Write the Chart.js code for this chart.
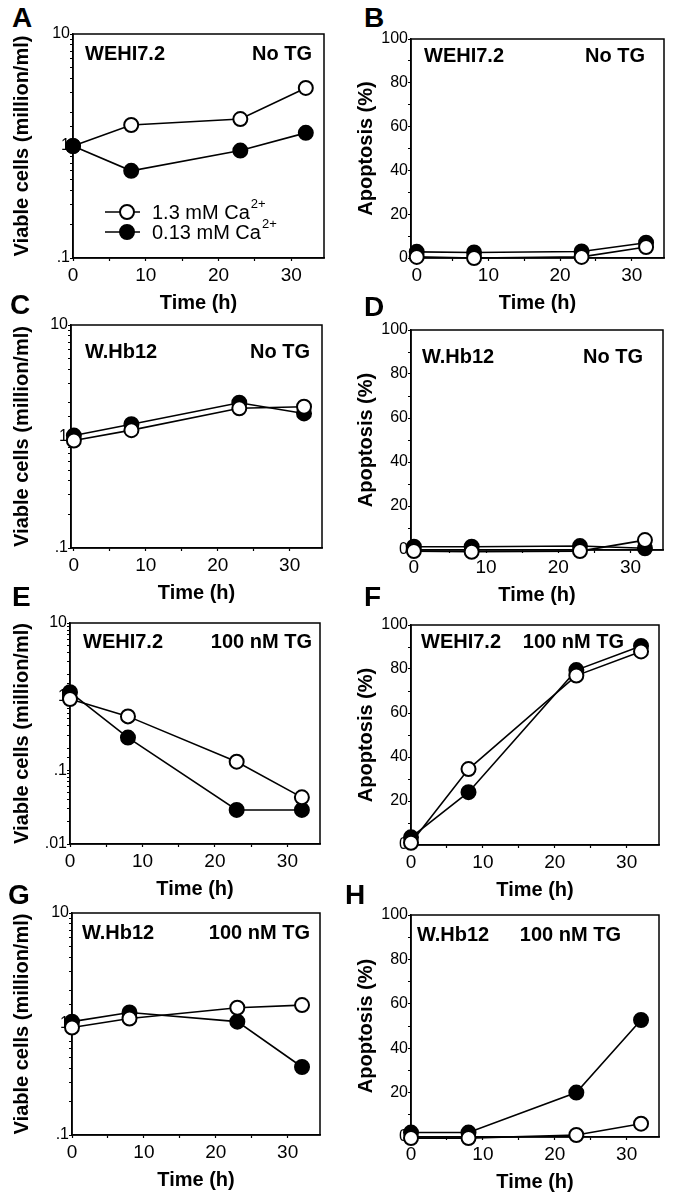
<!DOCTYPE html>
<html>
<head>
<meta charset="utf-8">
<script src="https://cdn.jsdelivr.net/npm/chart.js@4.4.1/dist/chart.umd.min.js"></script>
<style>
  html, body { margin: 0; padding: 0; background: #fff; }
  body { width: 674px; height: 1199px; position: relative; overflow: hidden; }
  canvas { position: absolute; }
  .letter {
    position: absolute;
    font: bold 28px "Liberation Sans", Arial, Helvetica, sans-serif;
    line-height: 1;
    color: #000;
  }
</style>
</head>
<body>
<script>
// ─── Data ────────────────────────────────────────────────────────────────────
const FONT = '"Liberation Sans", Arial, Helvetica, sans-serif';

const hours = [0, 8, 23, 32];
const timeTicks = [0, 5, 10, 15, 20, 25, 30];
const seriesLabels = ['1.3 mM Ca', '0.13 mM Ca'];
const ionCharge = '2+';

// A – WEHI7.2, no TG, viable cells (million/ml)
const viableWehiNoTgHigh = [1.0, 1.54, 1.74, 3.3];
const viableWehiNoTgLow = [1.0, 0.60, 0.91, 1.31];
// B – WEHI7.2, no TG, apoptosis (%)
const apopWehiNoTgHigh = [0.5, 0, 0.5, 5];
const apopWehiNoTgLow = [2.8, 2.5, 3, 7];
// C – W.Hb12, no TG, viable cells
const viableHbNoTgHigh = [0.92, 1.14, 1.79, 1.85];
const viableHbNoTgLow = [1.02, 1.29, 2.01, 1.61];
// D – W.Hb12, no TG, apoptosis
const apopHbNoTgHigh = [-0.5, -0.8, -0.5, 4.5];
const apopHbNoTgLow = [1.5, 1.5, 1.8, 0.8];
// E – WEHI7.2, 100 nM TG, viable cells
const viableWehiTgHigh = [0.93, 0.54, 0.131, 0.043];
const viableWehiTgLow = [1.15, 0.278, 0.029, 0.029];
// F – WEHI7.2, 100 nM TG, apoptosis
const apopWehiTgHigh = [1, 34.5, 77, 88];
const apopWehiTgLow = [3.5, 24, 79.5, 90.5];
// G – W.Hb12, 100 nM TG, viable cells
const viableHbTgHigh = [0.93, 1.12, 1.40, 1.48];
const viableHbTgLow = [1.05, 1.27, 1.05, 0.41];
// H – W.Hb12, 100 nM TG, apoptosis
const apopHbTgHigh = [-0.5, -0.5, 0.9, 6];
const apopHbTgLow = [2, 2, 20, 52.7];

// ─── Panel layout (pixel boxes are the plot areas) ───────────────────────────
const panels = [
  { letter: 'A', at: [12, 4], high: viableWehiNoTgHigh, low: viableWehiNoTgLow, log: true, yMin: 0.1,
    cell: 'WEHI7.2', cond: 'No TG', box: [73, 34, 327, 258], text: [12, 12, 20], legend: true, lowOnTop: true },
  { letter: 'B', at: [364, 4], high: apopWehiNoTgHigh, low: apopWehiNoTgLow, log: false, xMin: -0.8,
    cell: 'WEHI7.2', cond: 'No TG', box: [411, 39, 667, 258], text: [13, 19, 17] },
  { letter: 'C', at: [10, 291], high: viableHbNoTgHigh, low: viableHbNoTgLow, log: true, yMin: 0.1, xMin: -0.4,
    cell: 'W.Hb12', cond: 'No TG', box: [71, 325, 325, 548], text: [14, 12, 27] },
  { letter: 'D', at: [364, 293], high: apopHbNoTgHigh, low: apopHbNoTgLow, log: false, xMin: -0.4,
    cell: 'W.Hb12', cond: 'No TG', box: [411, 330, 666, 550], text: [11, 20, 27] },
  { letter: 'E', at: [12, 583], high: viableWehiTgHigh, low: viableWehiTgLow, log: true, yMin: 0.01,
    cell: 'WEHI7.2', cond: '100 nM TG', box: [70, 623, 323, 844], text: [13, 8, 19] },
  { letter: 'F', at: [364, 583], high: apopWehiTgHigh, low: apopWehiTgLow, log: false,
    cell: 'WEHI7.2', cond: '100 nM TG', box: [411, 625, 662, 845], text: [10, 35, 17] },
  { letter: 'G', at: [8, 881], high: viableHbTgHigh, low: viableHbTgLow, log: true, yMin: 0.1,
    cell: 'W.Hb12', cond: '100 nM TG', box: [72, 913, 323, 1135], text: [10, 10, 20] },
  { letter: 'H', at: [345, 881], high: apopHbTgHigh, low: apopHbTgLow, log: false,
    cell: 'W.Hb12', cond: '100 nM TG', box: [411, 915, 662, 1137], text: [6, 38, 20] },
];

const PAD_T = 14;
const PAD_B = 60;
const PAD_R = 6;

// ─── Plugins ─────────────────────────────────────────────────────────────────
const framePlugin = {
  id: 'frame',
  beforeDatasetsDraw(chart) {
    const { ctx, chartArea: { left, top, right, bottom } } = chart;
    ctx.save();
    ctx.strokeStyle = '#000';
    ctx.lineWidth = 1.5;
    ctx.strokeRect(left, top, right - left, bottom - top);
    ctx.restore();
  },
};

const panelTextPlugin = {
  id: 'panelText',
  afterDraw(chart, args, opts) {
    if (!opts || !opts.cell) return;
    const { ctx, chartArea: { left, top, right } } = chart;
    ctx.save();
    ctx.fillStyle = '#000';
    ctx.font = 'bold 20px ' + FONT;
    ctx.textBaseline = 'middle';
    ctx.textAlign = 'left';
    ctx.fillText(opts.cell, left + opts.offs[0], top + opts.offs[2]);
    ctx.textAlign = 'right';
    ctx.fillText(opts.cond, right - opts.offs[1], top + opts.offs[2]);
    ctx.restore();
  },
};

// legend with superscript charge, only used in panel A
const caLegendPlugin = {
  id: 'caLegend',
  afterDraw(chart, args, opts) {
    if (!opts || !opts.show) return;
    const { ctx, chartArea: { left, top } } = chart;
    const rows = [top + 178, top + 198];
    ctx.save();
    seriesLabels.forEach((label, i) => {
      const y = rows[i];
      ctx.strokeStyle = '#000';
      ctx.lineWidth = 1.6;
      ctx.beginPath();
      ctx.moveTo(left + 32, y);
      ctx.lineTo(left + 67, y);
      ctx.stroke();
      ctx.beginPath();
      ctx.arc(left + 54, y, 7, 0, Math.PI * 2);
      ctx.fillStyle = i === 0 ? '#fff' : '#000';
      ctx.fill();
      ctx.lineWidth = 2;
      ctx.stroke();
      ctx.fillStyle = '#000';
      ctx.font = '20px ' + FONT;
      ctx.textAlign = 'left';
      ctx.textBaseline = 'middle';
      const tx = left + 79;
      ctx.fillText(label, tx, y + 1);
      const w = ctx.measureText(label).width;
      ctx.font = '13px ' + FONT;
      ctx.fillText(ionCharge, tx + w + 1, y - 8);
    });
    ctx.restore();
  },
};

// ─── Build charts ────────────────────────────────────────────────────────────
function logLabel(v) {
  const e = Math.log10(v);
  if (Math.abs(e - Math.round(e)) > 1e-6) return '';
  if (v >= 1) return String(Math.round(v));
  return String(v).replace(/^0/, '');
}

function makeSeries(values, filled, order) {
  return {
    data: hours.map((t, i) => ({ x: t, y: values[i] })),
    borderColor: '#000',
    borderWidth: 1.6,
    pointRadius: 7,
    pointHoverRadius: 7,
    pointBorderWidth: 2,
    pointBorderColor: '#000',
    pointBackgroundColor: filled ? '#000' : '#fff',
    showLine: true,
    clip: false,
    order: order,
  };
}

panels.forEach((p) => {
  const [bl, bt, br, bb] = p.box;
  const x0 = bl < 337 ? 0 : 344;
  const w = br + PAD_R - x0;
  const h = bb - bt + PAD_T + PAD_B;

  const letter = document.createElement('div');
  letter.className = 'letter';
  letter.textContent = p.letter;
  letter.style.left = p.at[0] + 'px';
  letter.style.top = p.at[1] + 'px';
  document.body.appendChild(letter);

  const canvas = document.createElement('canvas');
  canvas.width = w;
  canvas.height = h;
  canvas.style.left = x0 + 'px';
  canvas.style.top = (bt - PAD_T) + 'px';
  canvas.style.width = w + 'px';
  canvas.style.height = h + 'px';
  document.body.appendChild(canvas);

  const tickGrid = {
    display: true,
    drawOnChartArea: false,
    drawTicks: true,
    tickLength: 3,
    tickColor: '#000',
    tickWidth: 1.2,
  };

  const yScale = p.log
    ? {
        type: 'logarithmic',
        min: p.yMin,
        max: 10,
        ticks: { color: '#000', font: { family: FONT, size: 16 }, padding: 0, autoSkip: false, callback: logLabel },
      }
    : {
        type: 'linear',
        min: 0,
        max: 100,
        ticks: {
          color: '#000', font: { family: FONT, size: 16 }, padding: 0, autoSkip: false, stepSize: 10,
          callback: (v) => (v % 20 === 0 ? String(v) : ''),
        },
      };

  Object.assign(yScale, {
    grid: tickGrid,
    border: { display: true, color: '#000', width: 1.5 },
    title: {
      display: true,
      text: p.log ? 'Viable cells (million/ml)' : 'Apoptosis (%)',
      color: '#000',
      font: { family: FONT, size: 20, weight: 'bold' },
      padding: { top: 10, bottom: 0 },
    },
    afterFit(axis) { axis.width = bl - x0; },
  });

  const xScale = {
    type: 'linear',
    min: p.xMin !== undefined ? p.xMin : 0,
    max: 34.5,
    grid: tickGrid,
    border: { display: true, color: '#000', width: 1.5 },
    afterBuildTicks(axis) { axis.ticks = timeTicks.map((v) => ({ value: v })); },
    ticks: {
      color: '#000', font: { family: FONT, size: 19 }, padding: 3, autoSkip: false, maxRotation: 0,
      callback: (v) => (v % 10 === 0 ? String(v) : ''),
    },
    title: {
      display: true,
      text: 'Time (h)',
      color: '#000',
      font: { family: FONT, size: 20, weight: 'bold' },
      padding: { top: 0, bottom: 3 },
    },
    afterFit(axis) { axis.height = PAD_B; },
  };

  new Chart(canvas, {
    type: 'scatter',
    data: {
      datasets: [
        makeSeries(p.high, false, p.lowOnTop ? 1 : 0),
        makeSeries(p.low, true, p.lowOnTop ? 0 : 1),
      ],
    },
    options: {
      responsive: false,
      maintainAspectRatio: false,
      devicePixelRatio: 1,
      animation: false,
      layout: { padding: { left: 0, top: PAD_T, right: PAD_R, bottom: 0 } },
      scales: { x: xScale, y: yScale },
      plugins: {
        legend: { display: false },
        tooltip: { enabled: false },
        panelText: { cell: p.cell, cond: p.cond, offs: p.text },
        caLegend: { show: !!p.legend },
      },
    },
    plugins: [framePlugin, panelTextPlugin, caLegendPlugin],
  });
});
</script>
</body>
</html>
